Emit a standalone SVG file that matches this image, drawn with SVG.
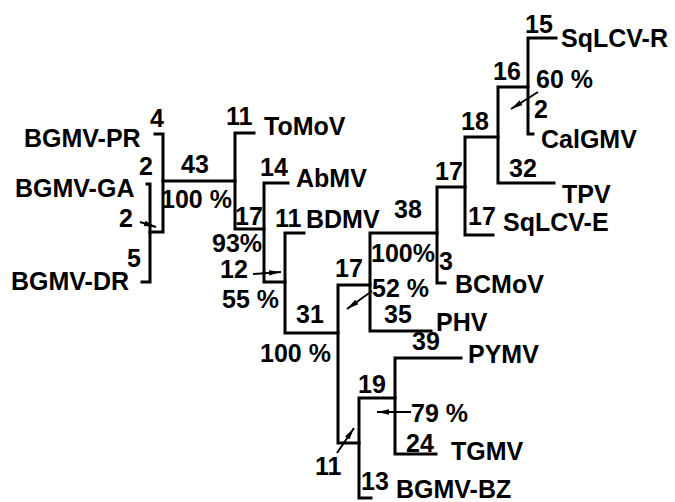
<svg xmlns="http://www.w3.org/2000/svg" width="675" height="502" viewBox="0 0 675 502">
<defs>
<style>
text{font-family:"Liberation Sans",Arial,sans-serif;font-weight:bold;font-size:25px;fill:#000}
.br{fill:none;stroke:#000;stroke-width:3;stroke-linejoin:miter;stroke-linecap:square}
.ar{fill:none;stroke:#000;stroke-width:2;marker-end:url(#ah)}
</style>
<marker id="ah" markerUnits="userSpaceOnUse" markerWidth="13" markerHeight="7" refX="12" refY="3.5" orient="auto">
<path d="M0,0.8 L12,3.5 L0,6.2 z" fill="#000"/>
</marker>
</defs>
<rect width="675" height="502" fill="#fff"/>
<g id="connectors">
<path class="br" d="M155,134 H163 V232 H150"/>
<path class="br" d="M147,184 H150 V282 H142"/>
<path class="br" d="M163,181 H235"/>
<path class="br" d="M254,133 H235 V229 H264"/>
<path class="br" d="M288,183 H264 V282 H285"/>
<path class="br" d="M304,233 H285 V333 H338"/>
<path class="br" d="M370,285 H338 V443 H359"/>
<path class="br" d="M437,233 H370 V331 H431"/>
<path class="br" d="M465,187 H437 V283 H445"/>
<path class="br" d="M498,137 H465 V235 H493"/>
<path class="br" d="M528,87 H498 V183 H554"/>
<path class="br" d="M556,38 H528 V134 H533"/>
<path class="br" d="M371,498 H359 V398 H395"/>
<path class="br" d="M461,358 H395 V454 H436"/>
<path class="ar" d="M140,222 L156,227"/>
<path class="ar" d="M253,274 L281,272"/>
<path class="ar" d="M372,291 L347,309"/>
<path class="ar" d="M538,92 L511,109"/>
<path class="ar" d="M411,412 L377,412"/>
<path class="ar" d="M337,453 L354,428"/>
</g>
<g id="labels">
<text x="150" y="127">4</text>
<text x="139" y="175">2</text>
<text x="181" y="173">43</text>
<text x="161" y="208">100 %</text>
<text x="119" y="227">2</text>
<text x="127" y="267">5</text>
<text x="226" y="125">11</text>
<text x="260" y="176">14</text>
<text x="235" y="225">17</text>
<text x="212" y="252">93%</text>
<text x="220" y="278">12</text>
<text x="222" y="308">55 %</text>
<text x="275" y="227">11</text>
<text x="296" y="323">31</text>
<text x="260" y="362">100 %</text>
<text x="335" y="277">17</text>
<text x="372" y="297">52 %</text>
<text x="394" y="218">38</text>
<text x="371" y="262">100%</text>
<text x="439" y="270">3</text>
<text x="384" y="323">35</text>
<text x="412" y="350">39</text>
<text x="358" y="393">19</text>
<text x="411" y="422">79 %</text>
<text x="406" y="452">24</text>
<text x="315" y="475">11</text>
<text x="361" y="490">13</text>
<text x="468" y="225">17</text>
<text x="435" y="180">17</text>
<text x="461" y="130">18</text>
<text x="509" y="177">32</text>
<text x="493" y="80">16</text>
<text x="536" y="88">60 %</text>
<text x="534" y="118">2</text>
<text x="525" y="33">15</text>
</g>
<g id="BGMV-PR"><text x="24" y="147">BGMV-PR</text></g>
<g id="BGMV-GA"><text x="15" y="197">BGMV-GA</text></g>
<g id="BGMV-DR"><text x="11" y="290">BGMV-DR</text></g>
<g id="ToMoV"><text x="264" y="135">ToMoV</text></g>
<g id="AbMV"><text x="296" y="187">AbMV</text></g>
<g id="BDMV"><text x="306" y="228">BDMV</text></g>
<g id="BCMoV"><text x="455" y="293">BCMoV</text></g>
<g id="PHV"><text x="436" y="331">PHV</text></g>
<g id="PYMV"><text x="468" y="363">PYMV</text></g>
<g id="TGMV"><text x="451" y="460">TGMV</text></g>
<g id="BGMV-BZ"><text x="396" y="498">BGMV-BZ</text></g>
<g id="SqLCV-E"><text x="503" y="231">SqLCV-E</text></g>
<g id="TPV"><text x="562" y="203">TPV</text></g>
<g id="SqLCV-R"><text x="561" y="47">SqLCV-R</text></g>
<g id="CalGMV"><text x="541" y="148">CalGMV</text></g>
</svg>
